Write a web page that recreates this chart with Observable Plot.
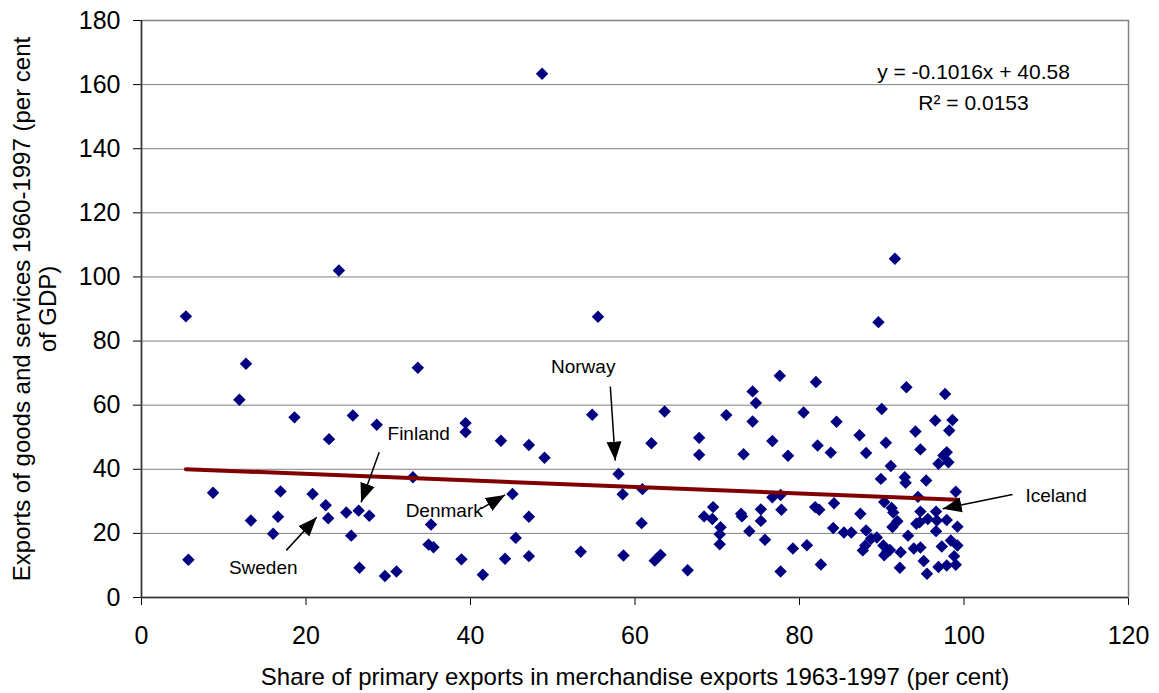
<!DOCTYPE html>
<html>
<head>
<meta charset="utf-8">
<script src="https://cdn.jsdelivr.net/npm/d3@7"></script>
<script src="https://cdn.jsdelivr.net/npm/@observablehq/plot@0.6"></script>
<style>
  body { margin: 0; background: #fff; }
  #chart { width: 1159px; height: 693px; }
</style>
</head>
<body>
<div id="chart"></div>
<script>
// ---- Data ----
const primaryShare = [
  5.4, 12.7, 11.9, 18.6, 25.7, 28.6, 22.8, 33.6, 39.4, 39.4, 33.0, 8.7, 16.9, 20.8, 22.4, 24.9, 26.4,
  27.7, 22.7, 16.6, 13.3, 16.0, 25.5, 35.2, 34.9, 35.5, 5.7, 26.5, 29.6, 31.0, 38.9, 41.5, 24.0, 48.7,
  55.5, 54.8, 63.6, 43.7, 47.1, 49.0, 62.0, 67.8, 67.8, 58.0, 58.5, 60.9, 45.1, 47.1, 45.5, 44.2, 47.1,
  53.4, 58.6, 60.8, 62.4, 63.1, 66.4, 77.6, 82.0, 74.3, 74.7, 71.1, 80.5, 74.3, 84.5, 76.7, 73.2, 78.6,
  82.2, 83.8, 69.5, 68.4, 69.4, 70.4, 70.3, 70.3, 72.9, 73.0, 73.9, 75.3, 75.3, 75.8, 76.7, 77.7, 77.8,
  79.2, 80.9, 77.7, 82.6, 81.9, 82.4, 84.1, 84.2,
  89.6, 91.6, 93.0, 97.7, 90.0, 96.5, 98.6, 98.2, 94.1, 87.3, 90.5, 88.1, 94.7, 97.9, 97.5, 96.9, 98.1,
  91.1, 89.9, 92.8, 92.9, 95.4, 99.0, 94.4, 90.3, 91.2, 91.4, 87.4, 94.7, 94.6, 95.6, 96.6, 96.7, 97.9,
  96.6, 99.2, 94.2, 91.9, 91.3, 93.2, 85.4, 86.3, 88.1, 88.7, 89.4, 88.0, 87.7, 90.2, 90.6, 91.0, 90.3,
  92.3, 93.9, 94.7, 92.2, 95.1, 95.5, 96.9, 97.9, 99.0, 97.3, 98.4, 99.2, 98.8
];
const exportsGDP = [
  87.7, 72.9, 61.7, 56.2, 56.8, 53.9, 49.4, 71.7, 54.4, 51.6, 37.5, 32.7, 33.1, 32.3, 28.8, 26.5, 27.1,
  25.5, 24.7, 25.2, 24.0, 19.9, 19.3, 22.8, 16.5, 15.7, 11.8, 9.3, 6.7, 8.1, 11.9, 7.1, 102.0, 163.4,
  87.6, 57.0, 58.0, 48.9, 47.6, 43.6, 48.1, 49.8, 44.5, 38.5, 32.2, 33.8, 32.3, 25.2, 18.6, 12.1, 12.9,
  14.3, 13.1, 23.2, 11.5, 13.3, 8.5, 69.2, 67.2, 64.3, 60.7, 56.9, 57.7, 54.9, 54.8, 48.8, 44.7, 44.2,
  47.4, 45.2, 28.2, 25.3, 24.5, 21.9, 19.7, 16.6, 26.1, 25.3, 20.7, 27.5, 23.9, 18.0, 31.3, 32.0, 27.4,
  15.3, 16.3, 8.1, 10.3, 28.2, 27.4, 21.7, 29.4,
  85.9, 105.7, 65.6, 63.5, 58.8, 55.2, 55.4, 52.1, 51.8, 50.6, 48.3, 45.1, 46.2, 45.3, 44.3, 41.7, 42.2,
  41.0, 37.0, 37.5, 35.8, 36.5, 33.0, 31.4, 29.8, 27.9, 26.5, 26.1, 26.8, 23.5, 24.5, 26.8, 24.0, 24.2,
  20.7, 22.1, 23.0, 23.8, 22.0, 19.3, 20.3, 20.3, 20.9, 18.3, 18.7, 16.2, 14.7, 16.2, 14.1, 14.8, 13.2,
  14.1, 15.3, 15.6, 9.3, 11.4, 7.4, 9.5, 10.0, 10.2, 15.9, 17.8, 16.2, 12.9
];

const xTicks = [0, 20, 40, 60, 80, 100, 120];
const yTicks = [0, 20, 40, 60, 80, 100, 120, 140, 160, 180];

const trendSlope = -0.1016;
const trendIntercept = 40.58;
const equationText = "y = -0.1016x + 40.58";
const rSquaredText = "R\u00B2 = 0.0153";

const xTitle = "Share of primary exports in merchandise exports 1963-1997 (per cent)";
const yTitle = "Exports of goods and services 1960-1997 (per cent\nof GDP)";

// Country annotations (data units)
const countryNames = ["Finland", "Sweden", "Denmark", "Norway", "Iceland"];
const countryLabelX = [33.7, 14.8, 36.8, 53.7, 111.2];
const countryLabelY = [51.0, 9.2, 27.1, 71.9, 31.7];
const arrowFromX = [28.9, 17.6, 41.3, 57.0, 105.9];
const arrowFromY = [45.3, 14.7, 27.7, 65.8, 32.1];
const arrowToX = [26.7, 21.3, 44.2, 57.6, 97.4];
const arrowToY = [29.7, 25.0, 32.0, 42.7, 27.7];

// ---- Build tables ----
const points = primaryShare.map((x, i) => ({x, y: exportsGDP[i]}));
const [xMin, xMax] = d3.extent(primaryShare);
const trend = [xMin, xMax].map(x => ({x, y: trendSlope * x + trendIntercept}));
const annotations = countryNames.map((name, i) => ({
  name,
  lx: countryLabelX[i], ly: countryLabelY[i],
  x1: arrowFromX[i], y1: arrowFromY[i],
  x2: arrowToX[i], y2: arrowToY[i]
}));

const SVGNS = "http://www.w3.org/2000/svg";
function filledArrow(color, context) {
  const doc = (context && context.document) || document;
  const m = doc.createElementNS(SVGNS, "marker");
  m.setAttribute("viewBox", "-19 -8 20 16");
  m.setAttribute("markerWidth", "20");
  m.setAttribute("markerHeight", "16");
  m.setAttribute("refX", "0");
  m.setAttribute("refY", "0");
  m.setAttribute("markerUnits", "userSpaceOnUse");
  m.setAttribute("orient", "auto");
  const p = doc.createElementNS(SVGNS, "path");
  p.setAttribute("d", "M-19,-7.5L0,0L-19,7.5Z");
  p.setAttribute("fill", color);
  p.setAttribute("stroke", "none");
  m.appendChild(p);
  return m;
}

const font = "'Liberation Sans', Arial, Helvetica, sans-serif";

const chart = Plot.plot({
  width: 1159,
  height: 693,
  marginLeft: 141,
  marginRight: 31,
  marginTop: 20,
  marginBottom: 96,
  style: {fontFamily: font, fontSize: "25px", color: "#000", background: "#fff", overflow: "visible"},
  x: {domain: [0, 120], ticks: xTicks, tickSize: 8, tickPadding: 21, label: null, tickFormat: d => String(d)},
  y: {domain: [0, 180], ticks: yTicks, tickSize: 8, tickPadding: 13, label: null, tickFormat: d => String(d)},
  marks: [
    Plot.ruleY(yTicks.filter(d => d > 0), {stroke: "#808080", strokeWidth: 1}),
    Plot.frame({stroke: "#808080", strokeWidth: 1.5}),
    Plot.ruleX([0], {stroke: "#333", strokeWidth: 1.5}),
    Plot.ruleY([0], {stroke: "#333", strokeWidth: 1.5}),
    Plot.dot(points, {x: "x", y: "y", symbol: "diamond2", r: 5.6, fill: "#000080", stroke: null}),
    Plot.line(trend, {x: "x", y: "y", stroke: "#800000", strokeWidth: 4}),
    Plot.link(annotations, {x1: "x1", y1: "y1", x2: "x2", y2: "y2", stroke: "#000", strokeWidth: 1.5, markerEnd: filledArrow}),
    Plot.text(annotations, {x: "lx", y: "ly", text: "name", fontSize: 19, fill: "#000"}),
    Plot.text([equationText], {frameAnchor: "top-right", dx: -155, dy: 44, text: d => d, fontSize: 21, textAnchor: "middle", fill: "#000"}),
    Plot.text([rSquaredText], {frameAnchor: "top-right", dx: -155, dy: 75, text: d => d, fontSize: 21, textAnchor: "middle", fill: "#000"}),
    Plot.text([xTitle], {frameAnchor: "bottom", dy: 70, lineAnchor: "top", text: d => d, fontSize: 24, fill: "#000"}),
    Plot.text([yTitle], {frameAnchor: "left", dx: -107, rotate: -90, text: d => d, fontSize: 24, lineHeight: 1.1, textAnchor: "middle", fill: "#000"})
  ]
});
document.getElementById("chart").appendChild(chart);
</script>
</body>
</html>
